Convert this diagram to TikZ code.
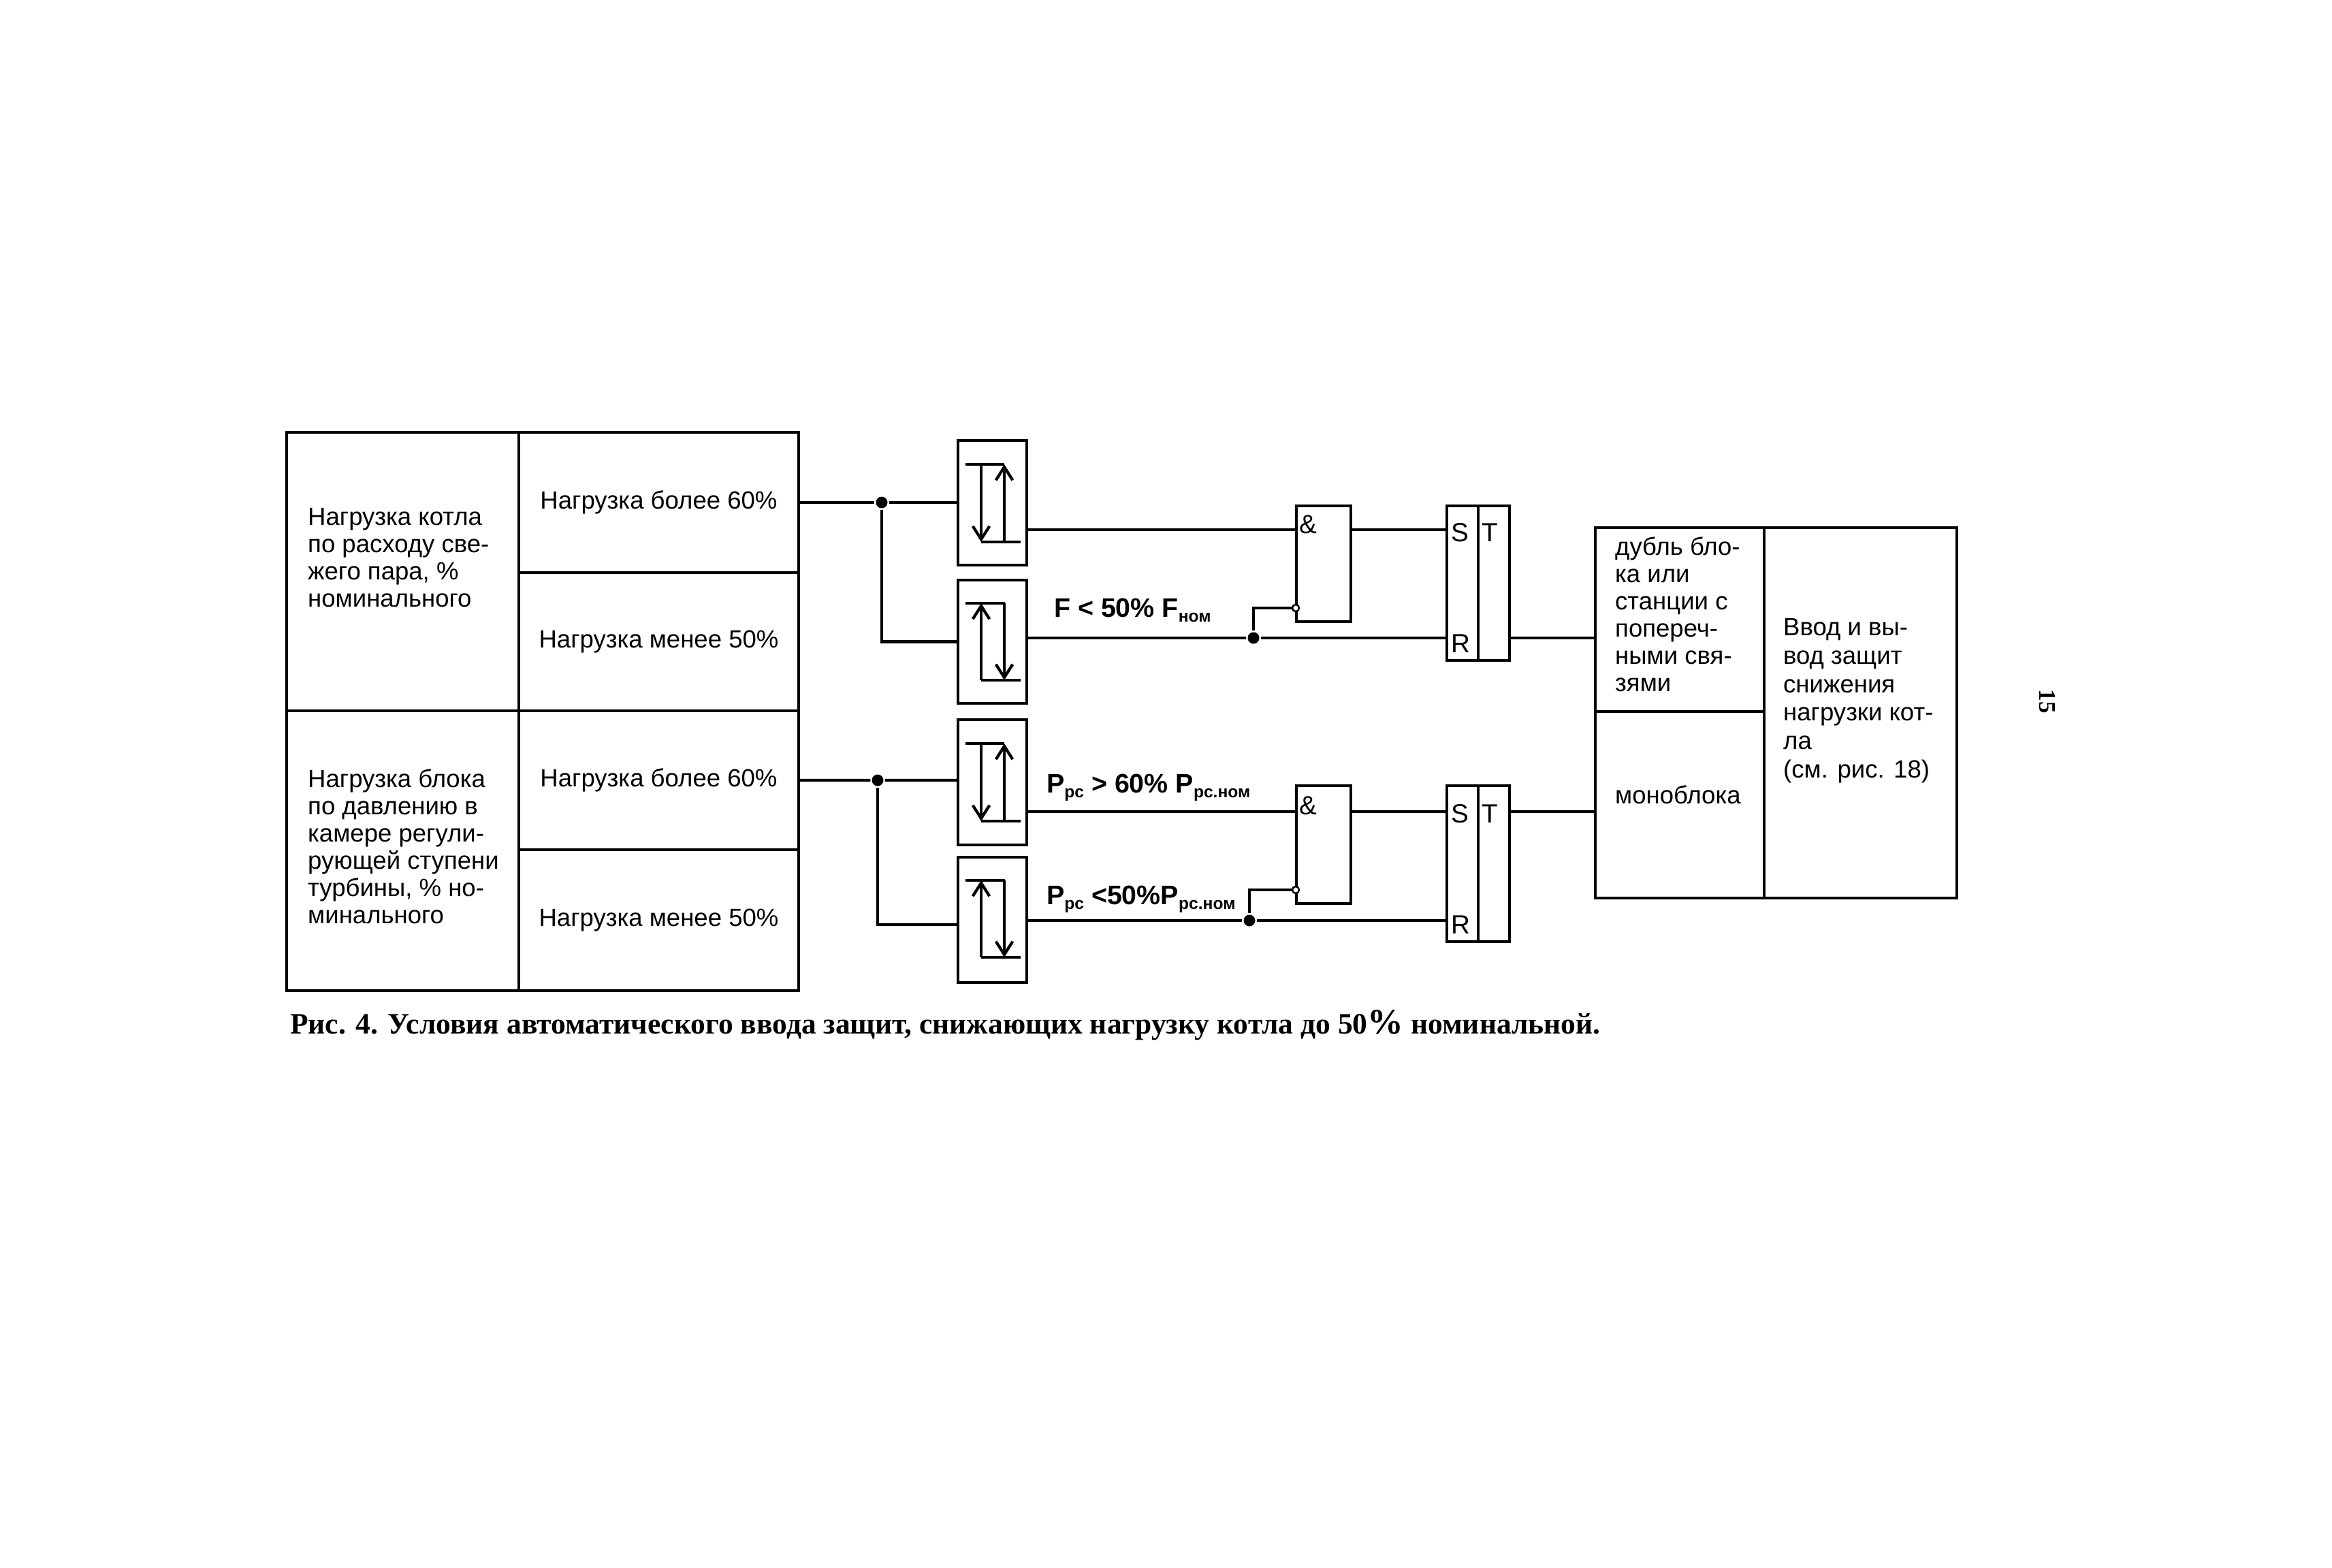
\documentclass[tikz,border=0pt]{standalone}
\usepackage{fontspec}
\setmainfont{Liberation Sans}
\newfontfamily\capfont{Liberation Serif}
\usetikzlibrary{arrows.meta}
\newcommand{\sbs}[1]{\raisebox{-2pt}{\fontsize{7}{8}\selectfont #1}}
\begin{document}
\begin{tikzpicture}[line width=1.25pt,>={Straight Barb[length=5.5pt,width=7pt,line width=1.2pt]}]
\tikzset{cell/.style={draw,anchor=north west,inner sep=0pt,outer sep=0pt,line width=1.25pt,
    font=\fontsize{10.4}{11.4}\selectfont},
  cmp/.style={cell,minimum width=1.01cm,minimum height=1.84cm},
  andbox/.style={cell,minimum width=0.80cm},
  sr/.style={cell,minimum width=0.46cm},
  txt/.style={anchor=north west,inner sep=0pt,align=left,font=\fontsize{10.4}{11.4}\selectfont},
  lbl/.style={inner sep=0pt,font=\fontsize{11}{11.5}\selectfont},
  mid/.style={anchor=base west,inner sep=0pt,font=\fontsize{11.2}{12}\bfseries\selectfont},
  jn/.style={circle,fill,inner sep=0pt,minimum size=0.17cm},
  inv/.style={circle,draw,fill=white,inner sep=0pt,minimum size=0.10cm,line width=0.7pt}}
\useasboundingbox (0,0) rectangle (34.25,-23.03);
% ================= left table =================
\node[cell,minimum width=3.41cm,minimum height=4.09cm] (lft1) at (4.21,-6.35) {};
\node[cell,minimum width=3.41cm,minimum height=4.11cm] (lft2) at (4.21,-10.44) {};
\node[cell,minimum width=4.11cm,minimum height=2.06cm] (b1) at (7.62,-6.35) {Нагрузка более 60\%};
\node[cell,minimum width=4.11cm,minimum height=2.03cm] (b2) at (7.62,-8.41) {Нагрузка менее 50\%};
\node[cell,minimum width=4.11cm,minimum height=2.04cm] (b3) at (7.62,-10.44) {Нагрузка более 60\%};
\node[cell,minimum width=4.11cm,minimum height=2.07cm] (b4) at (7.62,-12.48) {Нагрузка менее 50\%};
\node[txt] (t1) at (4.50,-7.44) {Нагрузка котла\\по расходу све-\\жего пара, \%\\номинального};
\node[txt] (t2) at (4.50,-11.27) {Нагрузка блока\\по давлению в\\камере регули-\\рующей ступени\\турбины, \% но-\\минального};
% ================= comparators =================
\node[cmp,minimum height=1.83cm] (cmp1) at (14.07,-6.47) {};
\node[cmp,minimum height=1.81cm] (cmp2) at (14.07,-8.52) {};
\node[cmp] (cmp3) at (14.07,-10.57) {};
\node[cmp] (cmp4) at (14.07,-12.59) {};
% arrows inside: down on the left, up on the right
\foreach \c in {cmp1,cmp3}{
  \begin{scope}[shift={(\c.north west)}]
  \draw (0.11,-0.35) -- (0.68,-0.35);
  \draw (0.34,-1.49) -- (0.92,-1.49);
  \draw[->,line width=0.9pt] (0.34,-0.35) -- (0.34,-1.49);
  \draw[->,line width=0.9pt] (0.68,-1.49) -- (0.68,-0.35);
  \end{scope}}
% arrows inside: up on the left, down on the right
\foreach \c in {cmp2,cmp4}{
  \begin{scope}[shift={(\c.north west)}]
  \draw (0.11,-0.34) -- (0.69,-0.34);
  \draw (0.34,-1.47) -- (0.92,-1.47);
  \draw[->,line width=0.9pt] (0.34,-1.47) -- (0.34,-0.34);
  \draw[->,line width=0.9pt] (0.68,-0.34) -- (0.68,-1.47);
  \end{scope}}
% ================= and gates =================
\node[andbox,minimum height=1.70cm] (and1) at (19.04,-7.43) {};
\node[andbox,minimum height=1.73cm] (and2) at (19.04,-11.54) {};
\node[lbl] (amp1) at (19.21,-7.70) {\&};
\node[lbl] (amp2) at (19.21,-11.83) {\&};
\node[inv] (inv1) at (19.03,-8.93) {};
\node[inv] (inv2) at (19.03,-13.07) {};
% ================= triggers =================
\node[sr,minimum height=2.27cm] (srs1) at (21.25,-7.43) {};
\node[sr,minimum height=2.27cm] (srt1) at (21.71,-7.43) {};
\node[sr,minimum height=2.29cm] (srs2) at (21.25,-11.54) {};
\node[sr,minimum height=2.29cm] (srt2) at (21.71,-11.54) {};
\node[lbl] (s1) at (21.44,-7.82) {S};
\node[lbl] (t3) at (21.88,-7.82) {T};
\node[lbl] (r1) at (21.45,-9.45) {R};
\node[lbl] (s2) at (21.44,-11.95) {S};
\node[lbl] (t4) at (21.88,-11.95) {T};
\node[lbl] (r2) at (21.45,-13.58) {R};
% ================= right table =================
\node[cell,minimum width=2.48cm,minimum height=2.70cm] (dubl) at (23.43,-7.75) {};
\node[cell,minimum width=2.48cm,minimum height=2.74cm] (mono) at (23.43,-10.45) {};
\node[cell,minimum width=2.83cm,minimum height=5.44cm] (vvod) at (25.91,-7.75) {};
\node[txt] (t5) at (23.70,-7.86) {дубль бло-\\ка или\\станции с\\попереч-\\ными свя-\\зями};
\node[txt] (t6) at (23.70,-11.51) {моноблока};
\node[txt,font=\fontsize{10.4}{11.9}\selectfont] (t7) at (26.17,-9.06) {Ввод и вы-\\вод защит\\снижения\\нагрузки кот-\\ла\\(см. рис. 18)};
% ---------- signal labels ----------
\node[mid] (f1) at (15.46,-9.06) {F < 50\% F\sbs{ном}};
\node[mid] (p1) at (15.35,-11.64) {P\sbs{рс} > 60\% P\sbs{рс.ном}};
\node[mid] (p2) at (15.35,-13.28) {P\sbs{рс} <50\%P\sbs{рс.ном}};
% ---------- connections, upper half ----------
\node[jn] (j1) at (12.95,-7.38) {};
\node[jn] (j2) at (18.41,-9.37) {};
\draw (b1.east) -- (j1) -- (j1 -| cmp1.west);
\draw (j1) |- (cmp2.west);
\coordinate (o1) at (15.08,-7.78);
\draw (o1) -- (o1 -| and1.west);
\draw (o1 -| and1.east) -- (o1 -| srs1.west);
\draw (j2 -| cmp2.east) -- (j2) -- (j2 -| srs1.west);
\draw (j2) |- (inv1);
\draw (j2 -| srt1.east) -- (j2 -| dubl.west);
% ---------- connections, lower half ----------
\node[jn] (j3) at (12.89,-11.46) {};
\node[jn] (j4) at (18.35,-13.52) {};
\draw (b3.east) -- (j3) -- (j3 -| cmp3.west);
\draw (j3) |- ([yshift=-0.07cm]cmp4.west);
\coordinate (o3) at (15.08,-11.92);
\draw (o3) -- (o3 -| and2.west);
\draw (o3 -| and2.east) -- (o3 -| srs2.west);
\draw (j4 -| cmp4.east) -- (j4) -- (j4 -| srs2.west);
\draw (j4) |- (inv2);
\draw (o3 -| srt2.east) -- (o3 -| mono.west);
% ---------- caption and page number ----------
\node[anchor=base west,inner sep=0pt,font=\capfont\fontsize{12.38}{14}\bfseries\selectfont] (cap) at (4.24,-15.18)
  {Рис. 4. Условия автоматического ввода защит, снижающих нагрузку котла до 50{\fontsize{15}{14}\selectfont\%} номинальной.};
\node[rotate=-90,inner sep=0pt,font=\capfont\fontsize{10}{12}\bfseries\selectfont] (pg) at (30.07,-10.30) {15};
\end{tikzpicture}
\end{document}
